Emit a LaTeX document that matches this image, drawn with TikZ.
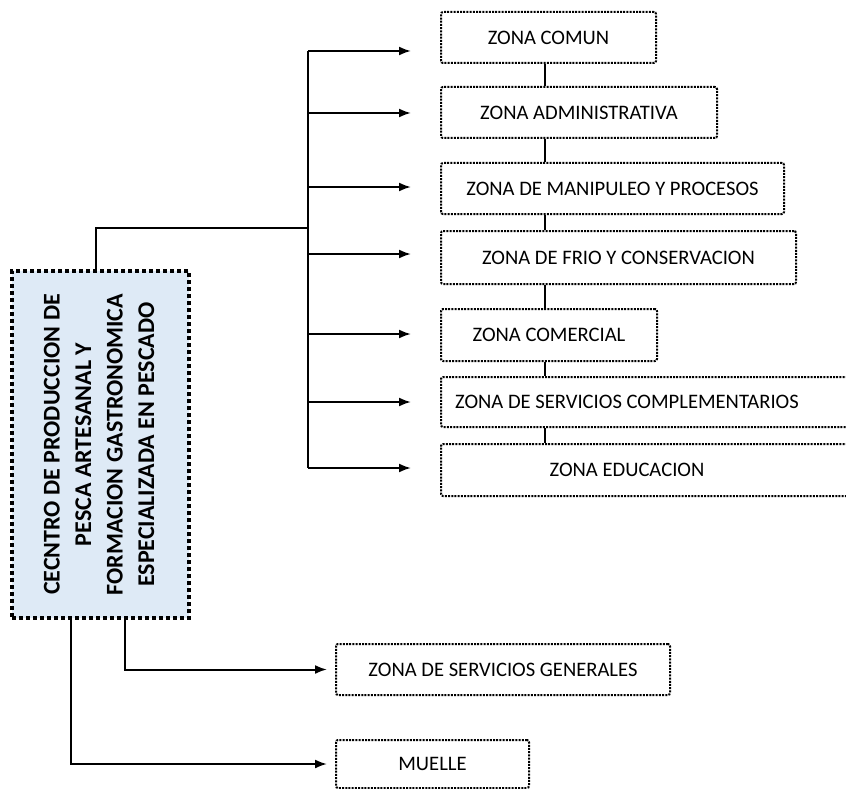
\documentclass[tikz,border=0pt]{standalone}
\usepackage{fontspec}
\setmainfont{Carlito}
\usetikzlibrary{arrows.meta}
\definecolor{boxblue}{HTML}{DEEAF6}
\begin{document}
\begin{tikzpicture}[x=1pt,y=-1pt,
  zbox/.style={draw=black, line width=2pt, dash pattern=on 2pt off 1.2pt,
    rounded corners=2pt, minimum height=51pt, inner sep=0pt, anchor=north west,
    font=\fontsize{20.6}{24}\selectfont},
  mainbox/.style={draw=black, fill=boxblue, line width=4pt, dash pattern=on 4pt off 3pt,
    minimum width=177pt, minimum height=347pt, inner sep=0pt},
  conn/.style={draw=black, line width=2pt},
  vlink/.style={draw=black, line width=2.6pt},
  arr/.style={conn, -{Latex[length=12pt,width=9pt]}}
]
\useasboundingbox (0,0) rectangle (846,789);

% main box
\node[mainbox] (main) at (100.5,444.5) {\rotatebox{90}{\fontsize{24}{31.5}\selectfont\bfseries
  \begin{tabular}{@{}c@{}}CECNTRO DE PRODUCCION DE\\PESCA ARTESANAL Y\\FORMACION GASTRONOMICA\\ESPECIALIZADA EN PESCADO\end{tabular}}};

% right boxes
\node[zbox, minimum width=215pt] (comun) at (440,11) {ZONA COMUN};
\node[zbox, minimum width=276pt] (admin) at (440,86) {ZONA ADMINISTRATIVA};
\node[zbox, minimum width=343pt] (manip) at (440,162) {ZONA DE MANIPULEO Y PROCESOS};
\node[zbox, minimum width=355pt, minimum height=53pt] (frio) at (440,230) {ZONA DE FRIO Y CONSERVACION};
\node[zbox, minimum width=216pt, minimum height=52pt] (comer) at (440,308) {ZONA COMERCIAL};
\node[zbox, minimum width=412pt, minimum height=50pt,
  label={[xshift=-20pt,font=\fontsize{20.6}{24}\selectfont]center:ZONA DE SERVICIOS COMPLEMENTARIOS}] (serv) at (440,376) {};
\node[zbox, minimum width=412pt, minimum height=52pt,
  label={[xshift=-20pt,font=\fontsize{20.6}{24}\selectfont]center:ZONA EDUCACION}] (educ) at (440,443) {};
\node[zbox, minimum width=334pt] (gen) at (335,643) {ZONA DE SERVICIOS GENERALES};
\node[zbox, minimum width=193pt, minimum height=48pt] (muelle) at (335,739) {MUELLE};

% vertical links between boxes
\coordinate (sp) at (545,0);
\draw[vlink] (comun.south -| sp) -- (admin.north -| sp);
\draw[vlink] (admin.south -| sp) -- (manip.north -| sp);
\draw[vlink] (manip.south -| sp) -- (frio.north -| sp);
\draw[vlink] (frio.south -| sp) -- (comer.north -| sp);
\draw[vlink] (comer.south -| sp) -- (serv.north -| sp);
\draw[vlink] (serv.south -| sp) -- (educ.north -| sp);

% bus
\coordinate (a1) at (308,51);
\coordinate (a2) at (308,113);
\coordinate (a3) at (308,187);
\coordinate (a4) at (308,254);
\coordinate (a5) at (308,334);
\coordinate (a6) at (308,402);
\coordinate (a7) at (308,468);
\coordinate (bj) at (308,228);
\draw[conn] (a1) -- (a7);
\draw[conn] ([xshift=-4.5pt]main.north) |- (bj);
\draw[arr, shorten >=29pt] (a1) -- (comun.west |- a1);
\draw[arr, shorten >=29pt] (a2) -- (admin.west |- a2);
\draw[arr, shorten >=29pt] (a3) -- (manip.west |- a3);
\draw[arr, shorten >=29pt] (a4) -- (frio.west |- a4);
\draw[arr, shorten >=29pt] (a5) -- (comer.west |- a5);
\draw[arr, shorten >=29pt] (a6) -- (serv.west |- a6);
\draw[arr, shorten >=29pt] (a7) -- (educ.west |- a7);

% bottom branches
\draw[arr, shorten >=8pt] ([xshift=24.5pt]main.south) |- (gen.west);
\draw[arr, shorten >=8pt] ([xshift=-29.5pt]main.south) |- (muelle.west);
\end{tikzpicture}
\end{document}
